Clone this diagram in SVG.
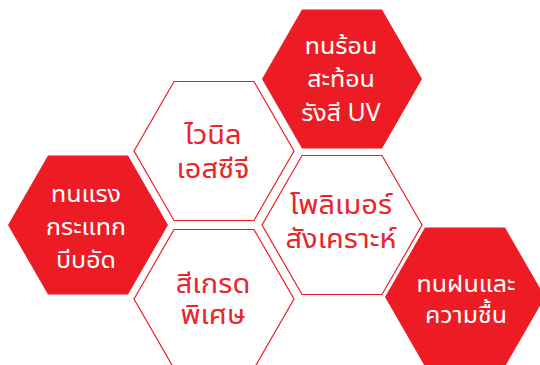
<svg xmlns="http://www.w3.org/2000/svg" width="540" height="365" viewBox="0 0 540 365">
  <defs>
    <style>
      .red { fill: #ed1c24; }
      .out { fill: #ffffff; stroke: #ed1c24; stroke-width: 1.2; }
      .tw { fill: #ffffff; font-family: "Noto Sans Thai UI", "Noto Sans Thai", "Noto Sans", "DejaVu Sans", sans-serif; font-size: 25px; text-anchor: middle; }
      .tr { fill: #e8262b; font-family: "Noto Sans Thai UI", "Noto Sans Thai", "Noto Sans", "DejaVu Sans", sans-serif; font-size: 29px; text-anchor: middle; }
    </style>
    <polygon id="hex" points="-80,0 -40,-69.5 40,-69.5 80,0 40,69.5 -40,69.5"/>
  </defs>
  <rect width="540" height="365" fill="#ffffff"/>
  <g id="connectors"></g>
  <g id="hex-strength">
    <use href="#hex" x="88" y="225" class="red"/>
    <text class="tw" x="86" y="202">ทนแรง</text>
    <text class="tw" x="86" y="235">กระแทก</text>
    <text class="tw" x="86" y="268">บีบอัด</text>
  </g>
  <g id="hex-heat">
    <use href="#hex" x="342" y="79" class="red"/>
    <text class="tw" x="341" y="54">ทนร้อน</text>
    <text class="tw" x="341" y="87">สะท้อน</text>
    <text class="tw" x="341" y="121">รังสี UV</text>
  </g>
  <g id="hex-vinyl">
    <use href="#hex" x="214" y="151" class="out"/>
    <text class="tr" x="213" y="144">ไวนิล</text>
    <text class="tr" x="213" y="178">เอสซีจี</text>
  </g>
  <g id="hex-polymer">
    <use href="#hex" x="342" y="225" class="out"/>
    <text class="tr" x="341" y="214">โพลิเมอร์</text>
    <text class="tr" x="341" y="248">สังเคราะห์</text>
  </g>
  <g id="hex-color">
    <use href="#hex" x="214" y="299" class="out"/>
    <text class="tr" x="213" y="293">สีเกรด</text>
    <text class="tr" x="213" y="324">พิเศษ</text>
  </g>
  <g id="hex-rain">
    <use href="#hex" x="465" y="297" class="red"/>
    <text class="tw" x="466" y="292">ทนฝนและ</text>
    <text class="tw" x="466" y="323">ความชื้น</text>
  </g>
</svg>
